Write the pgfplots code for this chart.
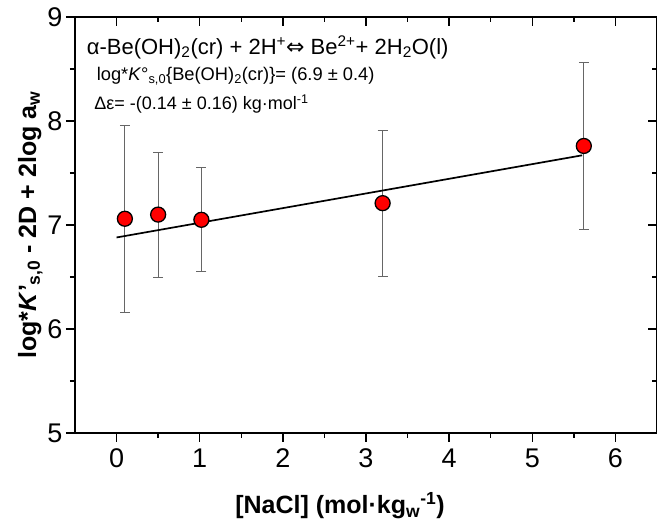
\documentclass[border=0pt]{standalone}
\usepackage{pgfplots}
\pgfplotsset{compat=1.18}
\usepackage{fontspec}
\setmainfont{Liberation Sans}
\newfontfamily\dejavu{DejaVu Sans}
\pgfplotstableread{
x y ey
0.1 7.06 0.90
0.5 7.10 0.60
1.02 7.05 0.50
3.2 7.21 0.70
5.62 7.76 0.80
}\datatab
\pgfplotstableread{
x y
0 6.88
5.6 7.67
}\fittab
\begin{document}
\begin{tikzpicture}
\useasboundingbox (0,0) rectangle (657pt,532pt);
\pgfplotsset{
  common/.style={
    at={(75pt,99pt)}, anchor=south west,
    scale only axis, width=582pt, height=416pt,
    xmin=-0.5, xmax=6.5, ymin=5, ymax=9,
    xtick={0,1,...,6}, ytick={5,6,7,8,9},
    minor x tick num=1, minor y tick num=1,
    axis line style={line width=1.4pt},
    major tick length=9pt, minor tick length=5pt,
    every tick/.style={line width=1.3pt, black},
  }
}
\begin{axis}[common,
  xtick pos=left, ytick pos=left, tick align=outside,
  /pgf/number format/assume math mode=true,
  ticklabel style={font=\fontsize{27}{32}\selectfont},
  xticklabel style={yshift=-3pt},
  xlabel={\bfseries [NaCl] (mol·kg\textsubscript{w}\textsuperscript{-1})},
  xlabel style={font=\fontsize{25}{30}\selectfont, yshift=-18pt, xshift=-26pt},
  ylabel={\bfseries log*\textit{K}'\textsubscript{s,0} - 2D + 2log a\textsubscript{w}},
  ylabel style={font=\fontsize{25}{30}\selectfont, yshift=-2pt},
  clip=false,
]
\addplot[draw=none, mark=none, forget plot,
  error bars/.cd, y dir=both, y explicit,
  error bar style={line width=0.9pt, gray!80!black},
  error mark options={rotate=90, mark size=5pt, line width=0.9pt, gray!80!black}]
  table[x=x, y=y, y error=ey] {\datatab};
\addplot[only marks, mark=*, mark size=7.5pt,
  mark options={fill=red, draw=black, line width=1.3pt}]
  table[x=x, y=y] {\datatab};
\addplot[black, line width=1.7pt, mark=none] table[x=x, y=y] {\fittab};
\node[anchor=west, inner sep=0pt, font=\fontsize{22}{26}\selectfont] at (axis cs:-0.36,8.71)
  {α-Be(OH)\textsubscript{2}(cr) + 2H\textsuperscript{+}{\dejavu ⇔} Be\textsuperscript{2+}+ 2H\textsubscript{2}O(l)};
\node[anchor=west, inner sep=0pt, font=\fontsize{18.3}{22}\selectfont] at (axis cs:-0.24,8.43)
  {log*\textit{K}°\textsubscript{s,0}\{Be(OH)\textsubscript{2}(cr)\}= (6.9 ± 0.4)};
\node[anchor=west, inner sep=0pt, font=\fontsize{18}{22}\selectfont] at (axis cs:-0.27,8.16)
  {Δε= -(0.14 ± 0.16) kg·mol\textsuperscript{-1}};
\end{axis}
\begin{axis}[common,
  xtick pos=right, ytick pos=right, tick align=inside,
  xticklabels={}, yticklabels={},
]
\end{axis}
\end{tikzpicture}
\end{document}
